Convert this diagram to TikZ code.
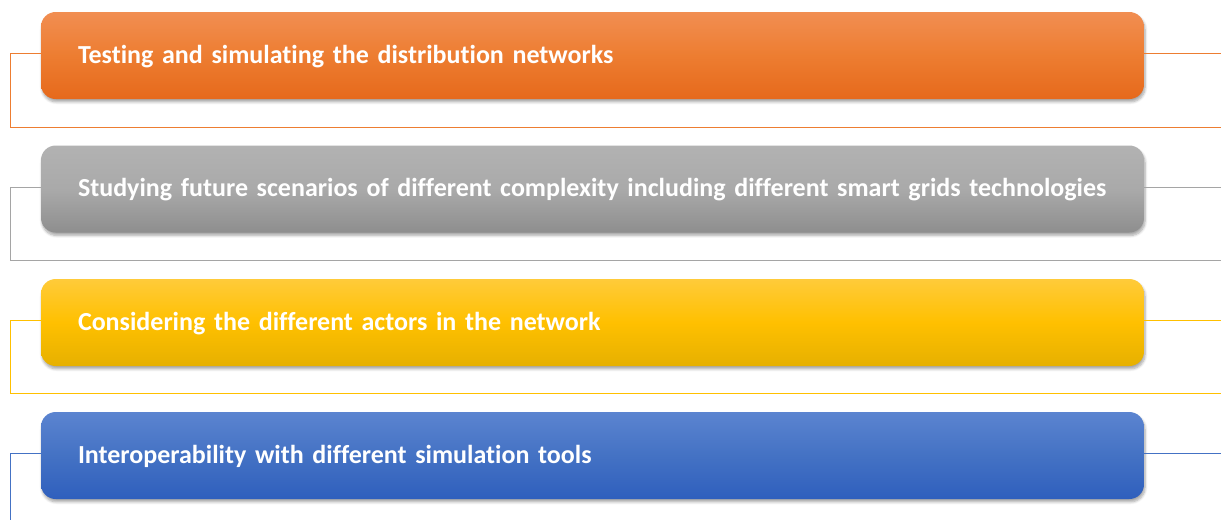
\documentclass[tikz,border=0pt]{standalone}
\usepackage{fontspec}
\setmainfont{Carlito}[Ligatures=NoCommon]
\usepackage{xcolor}
\usepackage{tikz}
\usetikzlibrary{positioning, shadows, shadows.blur}
\definecolor{testorange}{RGB}{237,125,49}
\definecolor{testorangetop}{RGB}{241,142,82}
\definecolor{testorangebot}{RGB}{230,105,27}
\definecolor{futuregray}{RGB}{165,165,165}
\definecolor{futuregraytop}{RGB}{178,178,178}
\definecolor{futuregraybot}{RGB}{142,142,142}
\definecolor{actoryellow}{RGB}{255,192,0}
\definecolor{actoryellowtop}{RGB}{255,203,58}
\definecolor{actoryellowbot}{RGB}{230,176,0}
\definecolor{interblue}{RGB}{68,114,196}
\definecolor{interbluetop}{RGB}{91,132,208}
\definecolor{interbluebot}{RGB}{47,95,189}

\begin{document}
\begin{tikzpicture}[x=0.75pt, y=-0.75pt,
    bar/.style={rectangle, rounded corners=11pt, minimum height=65.25pt,
        text height=38.4pt, text depth=26.8pt,
        text width=771.75pt, inner xsep=27.75pt, inner ysep=0pt, align=left,
        text=white, font=\fontsize{19.5}{23}\selectfont\bfseries,
        blur shadow={shadow blur steps=6, shadow blur extra rounding=2pt, shadow xshift=0.8pt, shadow yshift=-2.2pt, shadow opacity=35}},
    frame/.style={line width=0.6pt}]
    \useasboundingbox (0,0) rectangle (1221,519);

    % Testing and simulating
    \node[bar, top color=testorangetop, bottom color=testorangebot, middle color=testorange] (test) at (592.5,55.5)
        {Testing and simulating the distribution networks};
    \coordinate (testL) at (10,53);
    \coordinate (testR) at (1221,53);
    \draw[frame, testorange] (test.west |- testL) -- (testL) -- (10,127) -- (1221,127);
    \draw[frame, testorange] (test.east |- testR) -- (testR);

    % Future scenarios
    \node[bar, top color=futuregraytop, bottom color=futuregraybot, middle color=futuregray!95!white] (future) at (592.5,189)
        {Studying future scenarios of different complexity including different smart grids technologies};
    \coordinate (futureL) at (10,187);
    \coordinate (futureR) at (1221,187);
    \draw[frame, futuregray] (future.west |- futureL) -- (futureL) -- (10,260) -- (1221,260);
    \draw[frame, futuregray] (future.east |- futureR) -- (futureR);

    % Actors
    \node[bar, top color=actoryellowtop, bottom color=actoryellowbot, middle color=actoryellow] (actor) at (592.5,322.5)
        {Considering the different actors in the network};
    \coordinate (actorL) at (10,320);
    \coordinate (actorR) at (1221,320);
    \draw[frame, actoryellow] (actor.west |- actorL) -- (actorL) -- (10,393) -- (1221,393);
    \draw[frame, actoryellow] (actor.east |- actorR) -- (actorR);

    % Interoperability
    \node[bar, top color=interbluetop, bottom color=interbluebot, middle color=interblue] (inter) at (592.5,455.5)
        {Interoperability with different simulation tools};
    \coordinate (interL) at (10,453);
    \coordinate (interR) at (1221,453);
    \draw[frame, interblue] (inter.west |- interL) -- (interL) -- (10,527) -- (1221,527);
    \draw[frame, interblue] (inter.east |- interR) -- (interR);
\end{tikzpicture}
\end{document}
